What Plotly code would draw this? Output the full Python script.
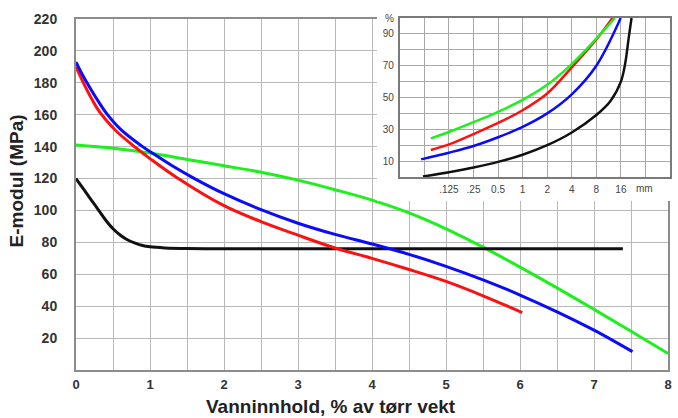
import math
import plotly.graph_objects as go

# ---------------- main chart data (E-modul vs water content) ----------------
blue_x = [0, 0.1, 0.2, 0.3, 0.41, 0.6, 0.9, 1.03, 1.3, 1.62, 2.0, 2.5, 3.0, 3.5, 4.0, 4.5, 5.0, 5.5, 6.0, 6.5, 7.0, 7.52]
blue_y = [193, 184, 176, 168.5, 161, 151, 140, 136, 128, 119.5, 110.5, 100.5, 92, 85, 79, 72.5, 65, 56.5, 47, 36.5, 25, 11.5]

red_x = [0, 0.1, 0.2, 0.3, 0.4, 0.55, 0.79, 1.0, 1.35, 2.0, 2.5, 3.0, 3.5, 4.0, 4.5, 5.0, 5.5, 6.03]
red_y = [190, 180, 171, 163, 157, 149.5, 140, 132.5, 121, 103, 93, 84.5, 76.5, 70, 63, 55.5, 46.5, 36]

green_x = [0, 0.5, 1.0, 1.5, 2.0, 2.5, 3.0, 3.5, 4.0, 4.5, 5.0, 5.5, 6.0, 6.5, 7.0, 7.5, 8.0]
green_y = [141, 139, 136, 132, 128, 124, 119, 113, 106.5, 98.5, 88.5, 77, 64.5, 51.5, 38, 24.3, 10.3]

black_x = [0, 0.1, 0.2, 0.3, 0.4, 0.5, 0.6, 0.7, 0.8, 0.9, 1.0, 1.2, 1.5, 2.0, 3.0, 4.0, 5.0, 6.0, 7.0, 7.39]
black_y = [120, 113.5, 107, 100.5, 94, 88.5, 84.5, 81.5, 79.5, 78, 77.2, 76.5, 76.1, 76, 76, 76, 76, 76, 76, 76]

main_x_ticks = [0, 1, 2, 3, 4, 5, 6, 7, 8]
main_y_ticks = [20, 40, 60, 80, 100, 120, 140, 160, 180, 200, 220]

# ---------------- inset data (grading curves, % passing vs sieve mm) ----------------
ins_green_x = [0.075, 0.125, 0.25, 0.5, 1, 2, 4, 8, 13.5]
ins_green_y = [24.3, 28.3, 34.5, 41, 48.5, 58, 71, 87, 100]

ins_red_x = [0.075, 0.125, 0.25, 0.5, 1, 2, 4, 8, 12.6]
ins_red_y = [17, 20.5, 27, 34, 42, 52.5, 69, 86.5, 100]

ins_blue_x = [0.057, 0.125, 0.25, 0.5, 1, 2, 4, 8, 15.9]
ins_blue_y = [11.1, 15.3, 19.5, 25, 31.5, 40, 52, 70, 100]

ins_black_x = [0.06, 0.125, 0.25, 0.5, 1, 2, 4, 8, 12, 16, 18, 20, 21.6]
ins_black_y = [0.3, 3, 6, 9.5, 14, 20, 28, 39, 48, 60, 71, 88, 100]

ins_x_tickvals = [1/16, 1/8, 1/4, 1/2, 1, 2, 4, 8, 16, 32]
ins_x_ticktext = ["", ".125", ".25", "0.5", "1", "2", "4", "8", "16", ""]
ins_y_tickvals = [0, 10, 20, 30, 40, 50, 60, 70, 80, 90, 100]
ins_y_ticktext = ["", "10", "", "30", "", "50", "", "70", "", "90", "%"]

BLUE = "#0a0aff"
RED = "#ff1010"
GREEN = "#1ef01e"
BLACK = "#111111"
FONT = "Liberation Sans"

fig = go.Figure()

# main traces
for xs, ys, c in [(green_x, green_y, GREEN), (black_x, black_y, BLACK),
                  (red_x, red_y, RED), (blue_x, blue_y, BLUE)]:
    fig.add_trace(go.Scatter(x=xs, y=ys, mode="lines", xaxis="x", yaxis="y",
                             line=dict(color=c, width=3, shape="spline", smoothing=1.0),
                             showlegend=False, hoverinfo="skip"))

# white cover subplot (empty)
fig.add_trace(go.Scatter(x=[], y=[], xaxis="x2", yaxis="y2", showlegend=False))

# inset traces
for xs, ys, c in [(ins_black_x, ins_black_y, BLACK), (ins_blue_x, ins_blue_y, BLUE),
                  (ins_red_x, ins_red_y, RED), (ins_green_x, ins_green_y, GREEN)]:
    fig.add_trace(go.Scatter(x=xs, y=ys, mode="lines", xaxis="x3", yaxis="y3",
                             line=dict(color=c, width=2.5, shape="spline", smoothing=1.0),
                             showlegend=False, hoverinfo="skip"))

L, R, T, B = 76, 2, 16, 48
W, H = 678, 418
pw, ph = W - L - R, H - T - B


def px_x(p):
    return (p - L) / pw


def px_y(p):
    return (H - B - p) / ph


grid_main = "#b8b8b8"
axis_main = "#8c8c8c"

fig.update_layout(
    width=W, height=H,
    margin=dict(l=L, r=R, t=T, b=B),
    paper_bgcolor="white", plot_bgcolor="white",
    font=dict(family=FONT, color="#333"),
    xaxis=dict(domain=[0, px_x(672)], range=[0, 8], tickvals=main_x_ticks,
               showgrid=True, gridcolor=grid_main, gridwidth=1,
               minor=dict(dtick=0.5, showgrid=True, gridcolor=grid_main, gridwidth=1),
               showline=True, linecolor=axis_main, linewidth=2, mirror=True,
               zeroline=False, ticks="", ticklabelstandoff=1,
               tickfont=dict(family=FONT, size=13, color="#333", weight="bold"),
               anchor="y"),
    yaxis=dict(domain=[0, px_y(19)], range=[0, 220], tickvals=main_y_ticks,
               showgrid=True, gridcolor=grid_main, gridwidth=1,
               showline=True, linecolor=axis_main, linewidth=2, mirror=True,
               zeroline=False, ticks="", ticklabelstandoff=14,
               tickfont=dict(family=FONT, size=14, color="#333", weight="bold"),
               anchor="x"),
    xaxis2=dict(domain=[px_x(379), 1], range=[0, 1], visible=False, anchor="y2",
                fixedrange=True),
    yaxis2=dict(domain=[px_y(201), 1], range=[0, 1], visible=False, anchor="x2",
                fixedrange=True),
    xaxis3=dict(domain=[px_x(402), px_x(674)], type="log",
                range=[math.log10(1/32), math.log10(64)],
                tickvals=ins_x_tickvals, ticktext=ins_x_ticktext,
                showgrid=True, gridcolor="#a8a8a8", gridwidth=1,
                showline=True, linecolor="#7a7a7a", linewidth=2, mirror=True,
                zeroline=False, ticks="", ticklabelstandoff=2,
                tickfont=dict(family=FONT, size=10, color="#444"),
                anchor="y3"),
    yaxis3=dict(domain=[px_y(177), px_y(18)], range=[0, 100],
                tickvals=ins_y_tickvals, ticktext=ins_y_ticktext,
                showgrid=True, gridcolor="#a8a8a8", gridwidth=1,
                showline=True, linecolor="#7a7a7a", linewidth=2, mirror=True,
                zeroline=False, ticks="", ticklabelstandoff=2,
                tickfont=dict(family=FONT, size=10, color="#444"),
                anchor="x3"),
    annotations=[
        dict(text="Vanninnhold, % av tørr vekt", xref="paper", yref="paper",
             x=px_x(333), y=px_y(406), xanchor="center", yanchor="middle",
             showarrow=False, font=dict(family=FONT, size=19, color="#222", weight="bold")),
        dict(text="E-modul (MPa)", xref="paper", yref="paper",
             x=px_x(16), y=px_y(181), xanchor="center", yanchor="middle", textangle=-90,
             showarrow=False, font=dict(family=FONT, size=19, color="#222", weight="bold")),
        dict(text="mm", xref="x3", yref="paper", x=math.log10(23), y=px_y(188),
             xanchor="left", yanchor="middle", showarrow=False,
             font=dict(family=FONT, size=10, color="#444")),
    ],
)

fig.write_html("out.html")
